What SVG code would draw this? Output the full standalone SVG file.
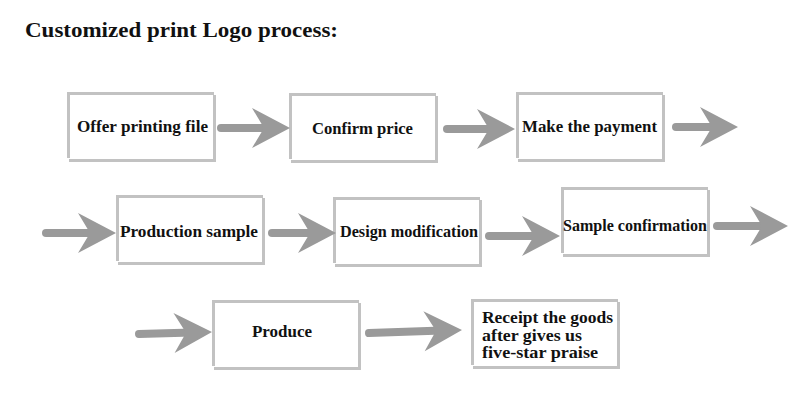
<svg xmlns="http://www.w3.org/2000/svg" xmlns:xlink="http://www.w3.org/1999/xlink" width="800" height="400" viewBox="0 0 800 400">
<style>
.lbl{font-family:"Liberation Serif","Times New Roman",serif;font-weight:bold;font-size:16px;fill:#111}
.title{font-family:"Liberation Serif","Times New Roman",serif;font-weight:bold;font-size:20px;fill:#111}
.frame{fill:none;stroke:#c2c2c2;stroke-width:3}
.conn{stroke:#9a9a9a;stroke-width:8;stroke-linecap:round;fill:none;marker-end:url(#head)}
</style>
<defs>
<marker id="head" markerUnits="userSpaceOnUse" viewBox="-20 -22 42 44" refX="0" refY="0" markerWidth="42" markerHeight="44" orient="auto" overflow="visible">
<path d="M20,0 L-18,-20 L-6,0 L-18,20 Z" fill="#9a9a9a"/>
</marker>
<g id="box">
<rect x="0" y="0" width="150" height="70" fill="#fff"/>
<path class="frame" d="M0,1.5 H147 M147.5,3 V70 M2,68.5 H149 M1.5,0 V66"/>
</g>
</defs>
<rect width="800" height="400" fill="#fff"/>
<text class="title" x="25" y="37" textLength="313" lengthAdjust="spacingAndGlyphs">Customized print Logo process:</text>

<g id="n1"><use xlink:href="#box" x="67" y="92"/><text class="lbl" x="77" y="132" textLength="131" lengthAdjust="spacingAndGlyphs">Offer printing file</text></g>
<g id="n2"><use xlink:href="#box" x="289" y="93"/><text class="lbl" x="312" y="134" textLength="101" lengthAdjust="spacingAndGlyphs">Confirm price</text></g>
<g id="n3"><use xlink:href="#box" x="516" y="92"/><text class="lbl" x="522" y="132" textLength="135" lengthAdjust="spacingAndGlyphs">Make the payment</text></g>
<g id="n4"><use xlink:href="#box" x="116" y="195"/><text class="lbl" x="120" y="237" textLength="138" lengthAdjust="spacingAndGlyphs">Production sample</text></g>
<g id="n5"><use xlink:href="#box" x="333" y="197"/><text class="lbl" x="340" y="237" textLength="138" lengthAdjust="spacingAndGlyphs">Design modification</text></g>
<g id="n6"><use xlink:href="#box" x="561" y="187"/><text class="lbl" x="563" y="231" textLength="144" lengthAdjust="spacingAndGlyphs">Sample confirmation</text></g>
<g id="n7"><use xlink:href="#box" x="212" y="300"/><text class="lbl" x="252" y="337" textLength="60" lengthAdjust="spacingAndGlyphs">Produce</text></g>
<g id="n8"><use xlink:href="#box" x="471" y="299"/>
<text class="lbl" x="482" y="323" textLength="131" lengthAdjust="spacingAndGlyphs">Receipt the goods</text>
<text class="lbl" x="482" y="341" textLength="100" lengthAdjust="spacingAndGlyphs">after gives us</text>
<text class="lbl" x="482" y="358" textLength="116" lengthAdjust="spacingAndGlyphs">five-star praise</text>
</g>

<g id="connectors">
<line class="conn" x1="221" y1="128" x2="270" y2="128"/>
<line class="conn" x1="447" y1="129" x2="495" y2="129"/>
<line class="conn" x1="676" y1="127" x2="718" y2="127"/>
<line class="conn" x1="46" y1="233" x2="96" y2="233"/>
<line class="conn" x1="272" y1="233" x2="316" y2="233"/>
<line class="conn" x1="489" y1="236" x2="540" y2="236"/>
<line class="conn" x1="717" y1="226" x2="768" y2="226"/>
<line class="conn" x1="139" y1="334" x2="192" y2="332.5"/>
<line class="conn" x1="369" y1="333" x2="442" y2="330.6"/>
</g>
</svg>
